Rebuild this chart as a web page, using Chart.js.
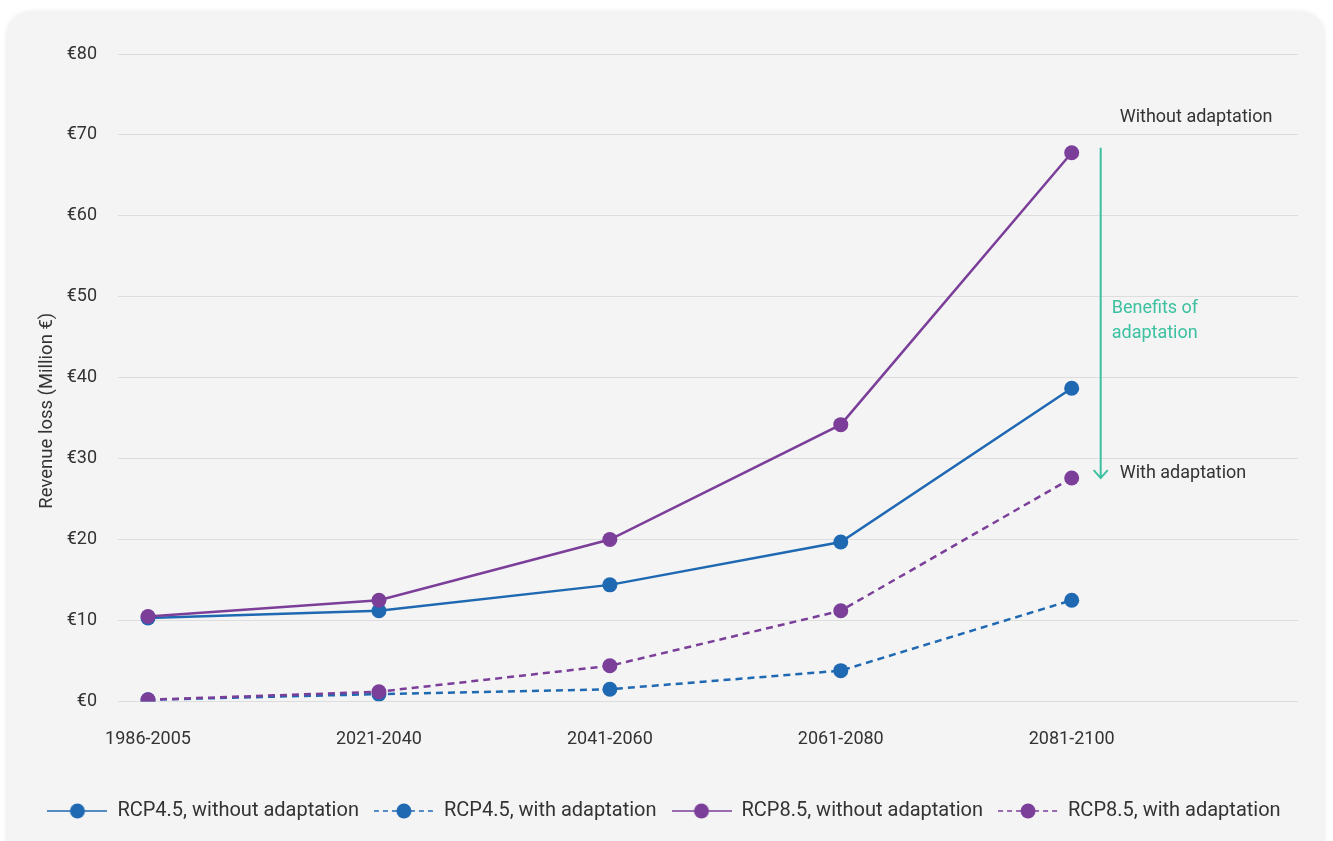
<!DOCTYPE html>
<html>
<head>
<meta charset="utf-8">
<script src="https://cdn.jsdelivr.net/npm/chart.js@4/dist/chart.umd.min.js"></script>
<style>
  html, body { margin: 0; padding: 0; background: #ffffff; }
  body { width: 1333px; height: 841px; position: relative; overflow: hidden; }
  .card {
    position: absolute; left: 8px; top: 13px; width: 1315px; height: 850px;
    background: #f4f4f4; border-radius: 22px;
    box-shadow: 0 0 6px rgba(0, 0, 0, 0.12);
  }
  #chart { position: absolute; left: 0; top: 0; }
</style>
</head>
<body>
<div class="card"></div>
<canvas id="chart" width="1333" height="841"></canvas>
<script>
// Revenue loss chart

const periods = ['1986-2005', '2021-2040', '2041-2060', '2061-2080', '2081-2100'];
const yTicks = [0, 10, 20, 30, 40, 50, 60, 70, 80];

const rcp45Without = [10.3, 11.2, 14.4, 19.7, 38.7];
const rcp45With = [0.2, 0.9, 1.5, 3.8, 12.5];
const rcp85Without = [10.5, 12.5, 20.0, 34.2, 67.8];
const rcp85With = [0.2, 1.2, 4.4, 11.2, 27.6];

const seriesLabels = [
  'RCP4.5, without adaptation',
  'RCP4.5, with adaptation',
  'RCP8.5, without adaptation',
  'RCP8.5, with adaptation'
];

const BLUE = '#1f69b3';
const PURPLE = '#7b3f9a';
const TEAL = '#3cc0a0';
const TEXT = '#333333';
const FONT = 'Roboto';

const toPoints = arr => arr.map((v, i) => ({ x: i, y: v }));

// legend icons: short line (solid or dashed) with a dot in the middle
function legendIcon(color, dashed) {
  const c = document.createElement('canvas');
  c.width = 60;
  c.height = 16;
  const g = c.getContext('2d');
  g.strokeStyle = color;
  g.lineWidth = 1.5;
  if (dashed) g.setLineDash([5, 4]);
  g.beginPath();
  g.moveTo(0, 8);
  g.lineTo(60, 8);
  g.stroke();
  g.fillStyle = color;
  g.beginPath();
  g.arc(30, 8, 7.5, 0, Math.PI * 2);
  g.fill();
  return c;
}

const icons = [
  legendIcon(BLUE, false),
  legendIcon(BLUE, true),
  legendIcon(PURPLE, false),
  legendIcon(PURPLE, true)
];

function line(label, data, color, dashed, order) {
  return {
    label: label,
    data: toPoints(data),
    borderColor: color,
    backgroundColor: color,
    borderWidth: 2.5,
    borderDash: dashed ? [7, 5] : [],
    pointRadius: 7.5,
    pointHoverRadius: 7.5,
    pointBackgroundColor: color,
    pointBorderWidth: 0,
    tension: 0,
    order: order
  };
}

// y title, arrow + labels on the right side
const benefitsPlugin = {
  id: 'benefits',
  afterDatasetsDraw(chart) {
    const { ctx, chartArea, scales: { x, y } } = chart;
    const ax = x.getPixelForValue(4) + 29;
    const top = y.getPixelForValue(rcp85Without[4]) - 5;
    const bottom = y.getPixelForValue(rcp85With[4]);

    ctx.save();
    ctx.font = `18.5px ${FONT}`;
    ctx.fillStyle = TEXT;
    ctx.textAlign = 'center';
    ctx.textBaseline = 'middle';
    ctx.translate(47, (chartArea.top + chartArea.bottom) / 2 + 33);
    ctx.rotate(-Math.PI / 2);
    ctx.fillText('Revenue loss (Million €)', 0, 0);
    ctx.restore();

    ctx.save();
    ctx.strokeStyle = TEAL;
    ctx.lineWidth = 2;
    ctx.beginPath();
    ctx.moveTo(ax, top);
    ctx.lineTo(ax, bottom);
    ctx.moveTo(ax - 7, bottom - 8);
    ctx.lineTo(ax, bottom);
    ctx.lineTo(ax + 7, bottom - 8);
    ctx.stroke();

    ctx.textBaseline = 'middle';
    ctx.textAlign = 'left';
    ctx.font = `18px ${FONT}`;
    ctx.fillStyle = TEXT;
    ctx.fillText('Without adaptation', ax + 19, top - 30);
    ctx.fillText('With adaptation', ax + 19, bottom - 5);

    const mid = (top + bottom) / 2;
    ctx.fillStyle = TEAL;
    ctx.fillText('Benefits of', ax + 11, mid - 4);
    ctx.fillText('adaptation', ax + 11, mid + 21);
    ctx.restore();
  }
};

const canvas = document.getElementById('chart');

new Chart(canvas.getContext('2d'), {
  type: 'line',
  data: {
    datasets: [
      line(seriesLabels[0], rcp45Without, BLUE, false, 2),
      line(seriesLabels[1], rcp45With, BLUE, true, 3),
      line(seriesLabels[2], rcp85Without, PURPLE, false, 0),
      line(seriesLabels[3], rcp85With, PURPLE, true, 1)
    ]
  },
  options: {
    responsive: false,
    animation: false,
    layout: {
      padding: { left: 30, right: 35, top: 54, bottom: 10 }
    },
    plugins: {
      legend: {
        position: 'bottom',
        labels: {
          usePointStyle: true,
          pointStyleWidth: 60,
          padding: 15,
          color: TEXT,
          font: { family: FONT, size: 20 },
          sort: (a, b) => a.datasetIndex - b.datasetIndex,
          generateLabels(chart) {
            const items = Chart.defaults.plugins.legend.labels.generateLabels(chart);
            items.forEach(it => { it.pointStyle = icons[it.datasetIndex]; });
            return items;
          }
        }
      },
      tooltip: { enabled: false }
    },
    scales: {
      x: {
        type: 'linear',
        min: -0.13,
        max: 4.98,
        afterBuildTicks(scale) {
          scale.ticks = periods.map((p, i) => ({ value: i }));
        },
        afterFit(scale) {
          scale.height += 9;
        },
        ticks: {
          color: TEXT,
          font: { family: FONT, size: 18 },
          padding: 27,
          maxRotation: 0,
          callback: v => periods[v]
        },
        grid: { display: false, drawTicks: false },
        border: { display: false }
      },
      y: {
        min: 0,
        max: 80,
        afterBuildTicks(scale) {
          scale.ticks = yTicks.map(v => ({ value: v }));
        },
        afterFit(scale) {
          scale.width = 88;
        },
        ticks: {
          color: TEXT,
          font: { family: FONT, size: 18 },
          padding: 21,
          callback: v => '€' + v
        },
        grid: { color: '#dddddd', lineWidth: 1, drawTicks: false },
        border: { display: false }
      }
    }
  },
  plugins: [benefitsPlugin]
});
</script>
</body>
</html>
